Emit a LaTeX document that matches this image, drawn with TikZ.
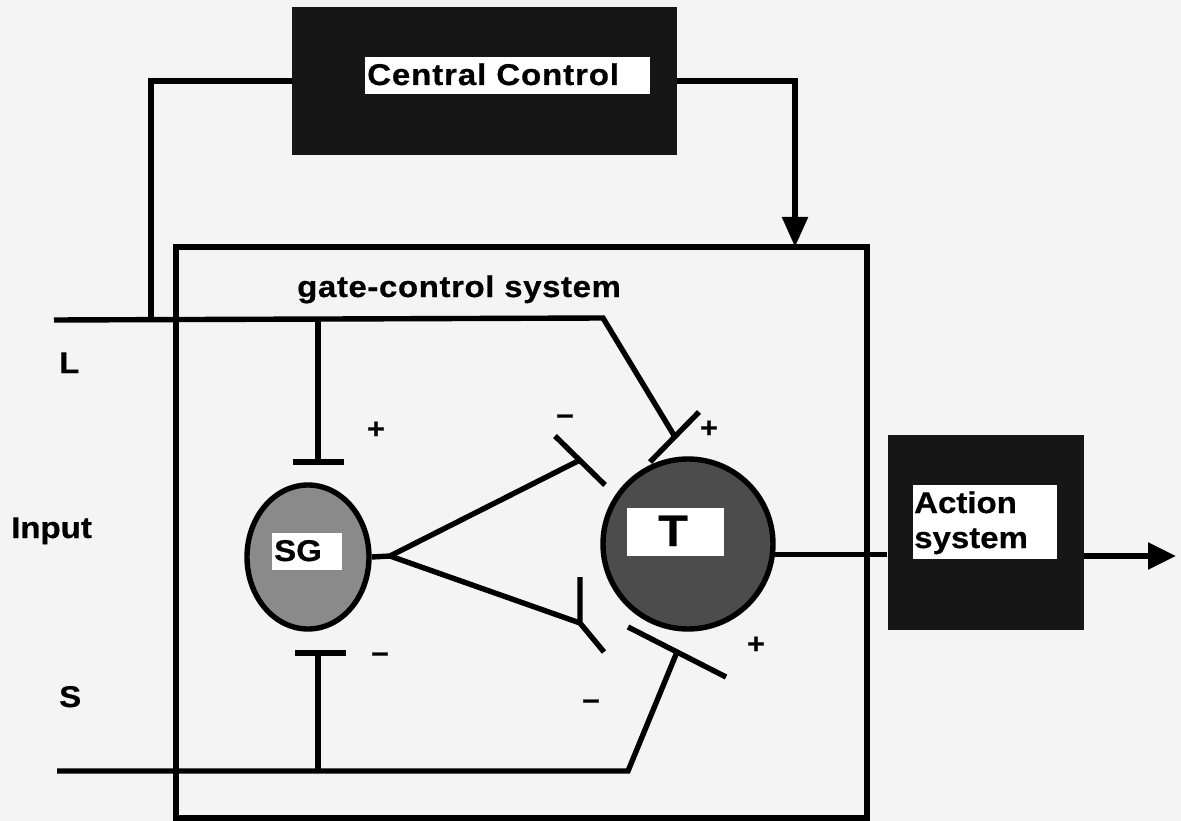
\documentclass[tikz,border=0pt]{standalone}
\usepackage{fontspec}
\setmainfont{Liberation Sans}[FakeStretch=1.1, BoldFeatures={FakeBold=0.6}]
\usetikzlibrary{arrows.meta,shapes.geometric}
\definecolor{paper}{HTML}{F4F4F4}
\definecolor{boxfill}{HTML}{161616}
\definecolor{sgfill}{HTML}{8A8A8A}
\definecolor{tfill}{HTML}{4C4C4C}
\begin{document}
\begin{tikzpicture}[x=1pt,y=-1pt,
  wire/.style={line width=5.4pt},
  lbl/.style={font=\bfseries\fontsize{30}{34}\selectfont, inner sep=0pt, anchor=base west},
  sign/.style={font=\bfseries\fontsize{28}{30}\selectfont, inner sep=0pt},
  darkbox/.style={fill=boxfill, draw=none, inner sep=0pt},
  whitebox/.style={fill=white, draw=none, inner sep=0pt},
  tip/.style={-{Triangle[length=30pt,width=25pt]}}]

% paper and frame
\fill[paper] (0,0) rectangle (1181,821);
\useasboundingbox (0,0) rectangle (1181,821);

% central control
\node[darkbox, minimum width=385pt, minimum height=148pt] (cc) at (484.5,81) {};
\node[whitebox, minimum width=285pt, minimum height=37pt] (ccw) at (507.5,75.5) {};
\node[lbl] (cct) at (367,85) {\addfontfeatures{LetterSpace=3}Central Control};

% gate-control system frame
\node[draw, wire, minimum width=691pt, minimum height=571pt, inner sep=0pt] (gcs) at (521.5,532.5) {};
\node[lbl] (gcst) at (297,297) {\addfontfeatures{LetterSpace=2}gate-control system};

% cells
\node[ellipse, draw, wire, fill=sgfill, minimum width=122pt, minimum height=144pt, inner sep=0pt] (sg) at (308,557) {};
\node[whitebox, minimum width=70pt, minimum height=37pt] (sgw) at (307,551.5) {};
\node[lbl] (sgt) at (274,561) {SG};

\node[circle, draw, wire, fill=tfill, minimum size=170pt, inner sep=0pt] (tc) at (688,544) {};
\node[whitebox, minimum width=97pt, minimum height=48pt] (tw) at (675.5,532) {};
\node[font=\bfseries\fontsize{44}{48}\selectfont, inner sep=0pt, anchor=base] (tt) at (673,546) {T};

% action system
\node[darkbox, minimum width=196pt, minimum height=195pt] (act) at (985.5,532.5) {};
\node[whitebox, minimum width=144pt, minimum height=74pt] (actw) at (985,522) {};
\node[lbl] (actt1) at (914,513) {Action};
\node[lbl] (actt2) at (914,548) {system};

% input labels
\node[lbl] (lL) at (59,373) {L};
\node[lbl] (lIn) at (11,538) {Input};
\node[lbl] (lS) at (59,707) {S};

% junctions and bends
\coordinate (Lin) at (54,320);
\coordinate (Ljn) at (151,320);
\coordinate (Lsg) at (318,320);
\coordinate (Lbend) at (603,318);
\coordinate (Ltip) at (675,437);
\coordinate (sgtop) at (318,462);
\coordinate (sgbot) at (318,653);
\coordinate (Sin) at (57,771);
\coordinate (Ssg) at (318,771);
\coordinate (Sbend) at (628,771);
\coordinate (Stip) at (677,652);
\coordinate (fork) at (390,556);
\coordinate (up) at (578,461);
\coordinate (dn) at (580,623);
\coordinate (ccin) at (795,247);
\coordinate (out) at (1176,556);

% central control links
\draw[wire] (cc.west) -| (Ljn);
\draw[wire, tip] (cc.east) -| (ccin);

% large fibre input
\draw[wire] (Lin) -- (Lbend) -- (Ltip);
\draw[wire] (Lsg) -- (sgtop);
\draw[wire] ([xshift=-25pt]sgtop) -- ([xshift=26pt]sgtop);
\draw[wire] (650,462) -- (699,412);

% small fibre input
\draw[wire] (Sin) -- (Sbend) -- (Stip);
\draw[wire] (Ssg) -- (sgbot);
\draw[wire] ([xshift=-23pt]sgbot) -- ([xshift=28pt]sgbot);
\draw[wire] (628,627) -- (726,677);

% substantia gelatinosa output
\draw[wire] (sg.east) -- (fork);
\draw[wire] (fork) -- (up);
\draw[wire] (fork) -- (dn);
\draw[wire] (555,436) -- (605,485);
\draw[wire] (580,577) -- (dn) -- (604,652);

% transmission output
\draw[wire] (tc.-7.4) -- (tc.-7.4 -| act.west);
\draw[wire, -{Triangle[length=28pt,width=26pt]}] (act.east |- out) -- (out);

% signs
\node[sign] (p1) at (376,430) {+};
\node[sign] (m1) at (380,658) {\char"2212};
\node[sign] (m2) at (565,420) {\char"2212};
\node[sign] (p2) at (709,429) {+};
\node[sign] (p3) at (756,645) {+};
\node[sign] (m3) at (591,705) {\char"2212};
\end{tikzpicture}
\end{document}
